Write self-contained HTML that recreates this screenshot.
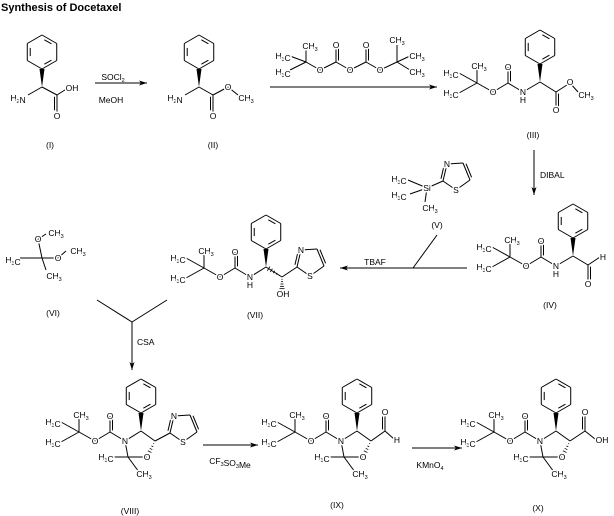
<!DOCTYPE html>
<html><head><meta charset="utf-8"><style>
html,body{margin:0;padding:0;background:#fff;width:614px;height:516px;overflow:hidden}
svg{display:block}
text{font-family:"Liberation Sans",Arial,sans-serif;font-size:8.5px;fill:#000}
.t{paint-order:stroke;stroke:#fff;stroke-width:3px;stroke-linejoin:round}
</style></head><body>
<svg id="s" width="614" height="516" viewBox="0 0 614 516" xmlns="http://www.w3.org/2000/svg">
<text x="1" y="11" style="font-weight:bold;font-size:11px">Synthesis of Docetaxel</text>
</svg>
<script>
var S=document.getElementById('s'),NS='http://www.w3.org/2000/svg';
var lines=[],texts=[];
function L(a,b,c,d,w){var e=document.createElementNS(NS,'line');e.setAttribute('x1',a);e.setAttribute('y1',b);e.setAttribute('x2',c);e.setAttribute('y2',d);e.setAttribute('stroke','#000');e.setAttribute('stroke-width',w||1);S.appendChild(e);}
function P(pts){var e=document.createElementNS(NS,'polygon');e.setAttribute('points',pts);e.setAttribute('fill','#000');S.appendChild(e);}
function T(x,y,str,halo,anchor){texts.push([x,y,str,halo,anchor]);}
function drawT(x,y,str,halo,anchor){var e=document.createElementNS(NS,'text');e.setAttribute('x',x);e.setAttribute('y',y+3);e.setAttribute('text-anchor',anchor||'middle');if(halo!==false)e.setAttribute('class','t');
 var parts=str.match(/\d+|[^\d]+/g);parts.forEach(function(p){var ts=document.createElementNS(NS,'tspan');ts.textContent=p;if(/\d/.test(p)&&str[0]!='('){ts.setAttribute('dy','2');ts.setAttribute('font-size','5.5');}
  e.appendChild(ts);if(/\d/.test(p)&&str[0]!='('){var r=document.createElementNS(NS,'tspan');r.setAttribute('dy','-2');r.textContent='';e.appendChild(r);}});
 S.appendChild(e);}
function D(a,b,c,d,side){L(a,b,c,d);var dx=c-a,dy=d-b,l=Math.hypot(dx,dy),nx=-dy/l*2.5*side,ny=dx/l*2.5*side;L(a+nx+dx*0.1,b+ny+dy*0.1,c+nx-dx*0.1,d+ny-dy*0.1);}
function ring(cx,cy,r){var v=[];for(var i=0;i<6;i++){var a=(-90+60*i)*Math.PI/180;v.push([cx+r*Math.cos(a),cy+r*Math.sin(a)]);}
 for(var i=0;i<6;i++){var p=v[i],q=v[(i+1)%6];L(p[0],p[1],q[0],q[1]);if(i%2==0){var k=0.8,s=0.2;var px=cx+(p[0]-cx)*k,py=cy+(p[1]-cy)*k,qx=cx+(q[0]-cx)*k,qy=cy+(q[1]-cy)*k;L(px+(qx-px)*s,py+(qy-py)*s,qx-(qx-px)*s,qy-(qy-py)*s);}}}
function pg(cx,cy){ring(cx,cy-35,17);P((cx-2.5)+','+(cy-18)+' '+(cx+2.5)+','+(cy-18)+' '+cx+','+cy);}
function boc(nx,ny){L(nx,ny,nx-15,ny-9);D(nx-15,ny-9,nx-15,ny-25,1);T(nx-15,ny-25,'O');L(nx-15,ny-9,nx-30,ny);T(nx-30,ny,'O');L(nx-30,ny,nx-46,ny-9);
 L(nx-46,ny-9,nx-46,ny-26);T(nx-44,ny-26,'CH3');L(nx-46,ny-9,nx-64,ny-19);T(nx-72,ny-19,'H3C');L(nx-46,ny-9,nx-64,ny+1);T(nx-72,ny+1,'H3C');T(nx,ny,'N');}
function thz(x,y){var N=[x+4,y-17],C4=[x+20,y-18],C5=[x+27,y-1],Sx=[x+13,y+9];D(x,y,N[0],N[1],-1);L(N[0],N[1],C4[0],C4[1]);D(C4[0],C4[1],C5[0],C5[1],-1);L(C5[0],C5[1],Sx[0],Sx[1]);L(Sx[0],Sx[1],x,y);T(N[0],N[1],'N');T(Sx[0],Sx[1],'S');}
function hash(a,b,c,d){for(var i=1;i<=5;i++){var t=i/6,x=a+(c-a)*t,y=b+(d-b)*t,w=i*0.5,dx=c-a,dy=d-b,l=Math.hypot(dx,dy);L(x-dy/l*w,y+dx/l*w,x+dy/l*w,y-dx/l*w,0.8);}}
function arrow(a,b,c,d){L(a,b,c,d);var dx=c-a,dy=d-b,l=Math.hypot(dx,dy),ux=dx/l,uy=dy/l;P(c+','+d+' '+(c-ux*8-uy*2.5)+','+(d-uy*8+ux*2.5)+' '+(c-ux*6)+','+(d-uy*6)+' '+(c-ux*8+uy*2.5)+','+(d-uy*8-ux*2.5));}
function ox(nx,ny){var c4=[nx+16,ny-10],c5=[nx+30,ny],o=[nx+22,ny+16],c2=[nx+3,ny+16];pg(c4[0],c4[1]);boc(nx,ny);L(nx,ny,c4[0],c4[1]);L(c4[0],c4[1],c5[0],c5[1]);hash(c5[0],c5[1],o[0],o[1]);L(o[0],o[1],c2[0],c2[1]);L(c2[0],c2[1],nx,ny);T(o[0],o[1],'O');L(c2[0],c2[1],c2[0]-14,c2[1]);T(c2[0]-22,c2[1],'H3C');L(c2[0],c2[1],c2[0]+11,c2[1]+15);T(c2[0]+16,c2[1]+17,'CH3');return c5;}

// (I)
pg(42,87);L(42,87,28,95);T(18,98,'H2N');L(42,87,57,95);D(57,95,57,112,1);T(57,116,'O');L(57,95,68,88);T(72,88,'OH');T(50,145,'(I)',false);
arrow(95,83,147,83);T(113,77,'SOCl2',false);T(111,100,'MeOH',false);
// (II)
pg(199,87);L(199,87,185,95);T(175,98,'H2N');L(199,87,213,95);D(213,95,213,112,1);T(213,116,'O');L(213,95,228,87);T(228,87,'O');L(228,87,238,95);T(246,98,'CH3');T(213,145,'(II)',false);
// arrow 2 + Boc2O
arrow(270,87,437,87);
L(306,62,306,48);T(310,46,'CH3');L(306,62,290,56);T(283,56,'H3C');L(306,62,290,70);T(283,72,'H3C');L(306,62,320,70);T(320,70,'O');L(320,70,336,62);D(336,62,336,47,1);T(336,45,'O');L(336,62,350,70);T(350,70,'O');L(350,70,366,62);D(366,62,366,47,1);T(366,45,'O');L(366,62,380,70);T(380,70,'O');L(380,70,397,62);L(397,62,397,45);T(397,40,'CH3');L(397,62,410,56);T(417,56,'CH3');L(397,62,410,70);T(417,72,'CH3');
// (III)
pg(540,82);boc(523,92);T(523,100,'H');L(540,82,523,92);L(540,82,556,92);D(556,92,556,108,-1);T(556,110,'O');L(556,92,570,83);T(570,82,'O');L(570,83,578,92);T(586,95,'CH3');T(533,135,'(III)',false);
arrow(534,150,534,195);T(540,175,'DIBAL',false,'start');
// (IV)
pg(573,256);boc(556,266);T(556,274,'H');L(573,256,556,266);L(573,256,588,265);D(588,265,588,281,-1);T(588,284,'O');L(588,265,600,257);T(603,257,'H');T(550,305,'(IV)',false);
// (V)
thz(443,181);L(443,181,427,188);T(427,188,'Si');L(427,188,408,180);T(399,179,'H3C');L(427,188,410,194);T(399,195,'H3C');L(427,188,425,202);T(430,208,'CH3');T(437,225,'(V)',false);
// TBAF arrow
arrow(467,268,340,268);L(413,268,437,235);T(375,262,'TBAF',false);
// (VI)
L(42,258,38,239);T(38,239,'O');L(38,239,46,234);T(56,233,'CH3');L(42,258,20,258);T(13,260,'H3C');L(42,258,58,258);T(58,258,'O');L(58,258,66,251);T(78,251,'CH3');L(42,258,46,270);T(54,276,'CH3');T(53,313,'(VI)',false);
// Y + CSA
L(97,300,132,322);L(167,300,132,322);arrow(132,322,132,370);T(137,342,'CSA',false,'start');
// (VII)
pg(266,267);boc(250,277);T(250,285,'H');L(266,267,250,277);hash(282,277,266,267);L(266,267,282,277);hash(282,277,282,291);T(283,294,'OH');L(282,277,297,267);thz(297,267);T(255,315,'(VII)',false);
// (VIII)
var c=ox(125,441);L(c[0],c[1],170,433);thz(170,433);T(130,511,'(VIII)',false);
arrow(203,445,258,445);T(230,461,'CF3SO3Me',false);
// (IX)
c=ox(341,441);L(c[0],c[1],385,431);D(385,431,385,415,-1);T(385,412,'O');L(385,431,394,439);T(397,440,'H');T(337,505,'(IX)',false);
arrow(412,448,462,448);T(430,465,'KMnO4',false);
// (X)
c=ox(540,441);L(c[0],c[1],585,431);D(585,431,585,415,-1);T(585,412,'O');L(585,431,595,439);T(602,440,'OH');T(538,508,'(X)',false);
texts.forEach(function(t){drawT.apply(null,t);});
</script>
</body></html>
